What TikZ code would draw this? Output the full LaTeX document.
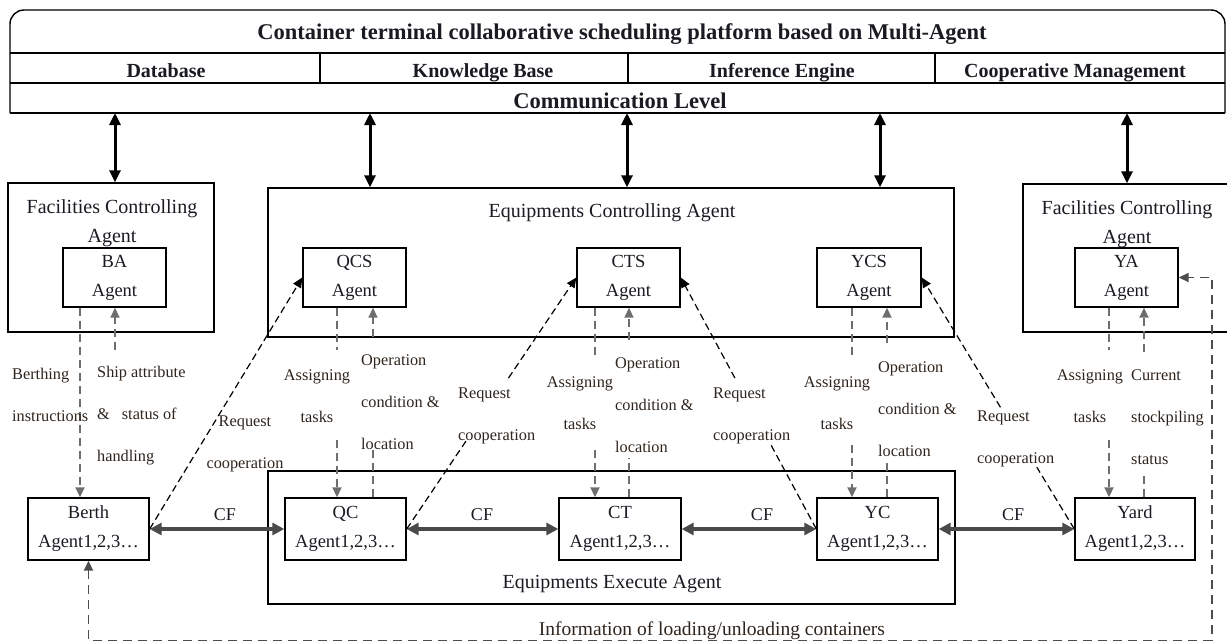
\documentclass[tikz,border=0pt]{standalone}
\usepackage{fontspec}
\setmainfont{Liberation Serif}
\usetikzlibrary{arrows.meta,calc}
\definecolor{txt}{HTML}{1A1A22}
\definecolor{lblc}{HTML}{2E241C}
\definecolor{gdc}{HTML}{6E6E6E}
\definecolor{cfc}{HTML}{4A4A4A}
\tikzset{
  frame/.style={draw=black, line width=1.4pt, inner sep=0pt},
  agentbox/.style={draw=black, line width=1.4pt, inner sep=0pt, align=center, text=txt,
     font=\fontsize{18.5}{29}\selectfont},
  boxtxt/.style={inner sep=0pt, align=center, text=txt, font=\fontsize{20}{29}\selectfont},
  hdr/.style={inner sep=0pt, anchor=base, text=txt, font=\bfseries\fontsize{20}{24}\selectfont},
  ttl/.style={inner sep=0pt, anchor=base, text=txt, font=\bfseries\fontsize{22.5}{26}\selectfont},
  lbl/.style={inner sep=0pt, text=lblc, font=\fontsize{16.3}{42}\selectfont},
  cflbl/.style={inner sep=0pt, text=txt, font=\fontsize{18}{22}\selectfont},
  bigarr/.style={line width=3pt, black, {Triangle[length=12pt,width=11pt]}-{Triangle[length=12pt,width=11pt]}},
  cfarr/.style={line width=3.5pt, cfc, {Triangle[length=12pt,width=12pt]}-{Triangle[length=12pt,width=12pt]}},
  gd/.style={line width=1.8pt, gdc, dash pattern=on 8pt off 5pt},
  gdarr/.style={gd, -{Triangle[length=10pt,width=9pt]}},
  rq/.style={line width=1.2pt, black, dash pattern=on 7pt off 4pt},
  rqarr/.style={rq, -{Triangle[length=10pt,width=9pt]}},
  loopd/.style={line width=1.8pt, draw=black!70, dash pattern=on 9pt off 6pt,
     {Triangle[length=10pt,width=9pt]}-{Triangle[length=10pt,width=9pt]}}
}
\begin{document}
\begin{tikzpicture}[x=1pt,y=-1pt]
\useasboundingbox (0,0) rectangle (1227,643);
% ---------- header table ----------
\draw[line width=1.4pt, rounded corners=14pt] (10,113) -- (10,10) -- (1225,10) -- (1225,113);
\draw[line width=1.4pt] (10,53) -- (1225,53);
\draw[line width=1.4pt] (10,83) -- (1225,83);
\draw[line width=1.4pt] (10,113) -- (1225,113);
\draw[line width=1.2pt] (320,53) -- (320,83) (628,53) -- (628,83) (935,53) -- (935,83);
\node[ttl] (title) at (622,39) {Container terminal collaborative scheduling platform based on Multi-Agent};
\node[hdr] (db) at (166,77) {Database};
\node[hdr] (kb) at (483,77) {Knowledge Base};
\node[hdr] (ie) at (782,77) {Inference Engine};
\node[hdr] (cm) at (1075,77) {Cooperative Management};
\node[ttl] (comm) at (620,108) {Communication Level};
% ---------- controlling agents ----------
\node[frame, minimum width=206pt, minimum height=149pt] (fcl) at (111,257.5) {};
\node[boxtxt] (fclt) at (112,223.5) {Facilities Controlling\\Agent};
\node[agentbox, minimum width=103pt, minimum height=59pt] (ba) at (114.5,277.5) {BA\\Agent};
\node[frame, minimum width=686pt, minimum height=149pt] (eca) at (611,262.5) {};
\node[boxtxt] (ecat) at (612,213) {Equipments Controlling Agent};
\node[agentbox, minimum width=103pt, minimum height=59pt] (qcs) at (354.5,277.5) {QCS\\Agent};
\node[agentbox, minimum width=103pt, minimum height=59pt] (cts) at (628.5,277.5) {CTS\\Agent};
\node[agentbox, minimum width=104pt, minimum height=59pt] (ycs) at (869,277.5) {YCS\\Agent};
\node[frame, minimum width=208pt, minimum height=148pt] (fcr) at (1127,258) {};
\node[boxtxt] (fcrt) at (1127,224.5) {Facilities Controlling\\Agent};
\node[agentbox, minimum width=103pt, minimum height=59pt] (ya) at (1126.5,277.5) {YA\\Agent};
% ---------- execute agents ----------
\node[frame, minimum width=687pt, minimum height=133pt] (eea) at (611.5,537.5) {};
\node[boxtxt] (eeat) at (612,584) {Equipments Execute Agent};
\node[agentbox, minimum width=121pt, minimum height=62pt] (berth) at (88.5,529) {Berth\\Agent1,2,3\dots};
\node[agentbox, minimum width=121pt, minimum height=62pt] (qc) at (345.5,529) {QC\\Agent1,2,3\dots};
\node[agentbox, minimum width=122pt, minimum height=62pt] (ct) at (620,529) {CT\\Agent1,2,3\dots};
\node[agentbox, minimum width=121pt, minimum height=62pt] (yc) at (877.5,529) {YC\\Agent1,2,3\dots};
\node[agentbox, minimum width=120pt, minimum height=62pt] (yard) at (1135,529) {Yard\\Agent1,2,3\dots};
% ---------- communication arrows ----------
\coordinate (t1) at (115,113);
\coordinate (t2) at (370,113);
\coordinate (t3) at (627,113);
\coordinate (t4) at (880,113);
\coordinate (t5) at (1127,113);
\draw[bigarr] (t1) -- (t1 |- fcl.north);
\draw[bigarr] (t2) -- (t2 |- eca.north);
\draw[bigarr] (t3) -- (t3 |- eca.north);
\draw[bigarr] (t4) -- (t4 |- eca.north);
\draw[bigarr] (t5) -- (t5 |- fcr.north);
% ---------- CF arrows ----------
\draw[cfarr] (berth.east) -- (qc.west);
\draw[cfarr] (qc.east) -- (ct.west);
\draw[cfarr] (ct.east) -- (yc.west);
\draw[cfarr] (yc.east) -- (yard.west);
\node[cflbl] (cf1) at (225,515) {CF};
\node[cflbl] (cf2) at (482,515) {CF};
\node[cflbl] (cf3) at (762,515) {CF};
\node[cflbl] (cf4) at (1013,515) {CF};
% ---------- BA <-> Berth ----------
\coordinate (bx) at (80,0);
\draw[gdarr] (ba.south -| bx) -- (berth.north -| bx);
\coordinate (s1) at (115,350);
\draw[gdarr] (s1) -- (s1 |- ba.south);
\node[lbl, anchor=west, align=left] (l1) at (12,395) {Berthing\\instructions};
\node[lbl, anchor=west, align=left] (l2) at (97,416) {Ship attribute\\\&\hspace{12pt}status of\\handling};
% ---------- QCS <-> QC ----------
\coordinate (qa1) at (337,350); \coordinate (qa2) at (337,440);
\draw[gd] (qa1 |- qcs.south) -- (qa1);
\draw[gdarr] (qa2) -- (qa2 |- qc.north);
\coordinate (qo1) at (373,337); \coordinate (qo2) at (373,450);
\draw[gdarr] (qo1) -- (qo1 |- qcs.south);
\draw[gd] (qo2 |- qc.north) -- (qo2);
\node[lbl, align=center] (l3) at (317,396) {Assigning\\tasks};
\node[lbl, anchor=west, align=left] (l4) at (361,402) {Operation\\condition \&\\location};
% ---------- CTS <-> CT ----------
\coordinate (ca1) at (595,358); \coordinate (ca2) at (595,450);
\draw[gd] (ca1 |- cts.south) -- (ca1);
\draw[gdarr] (ca2) -- (ca2 |- ct.north);
\coordinate (co1) at (629,340); \coordinate (co2) at (629,458);
\draw[gdarr] (co1) -- (co1 |- cts.south);
\draw[gd] (co2 |- ct.north) -- (co2);
\node[lbl, align=center] (l5) at (580,403) {Assigning\\tasks};
\node[lbl, anchor=west, align=left] (l6) at (615,405) {Operation\\condition \&\\location};
% ---------- YCS <-> YC ----------
\coordinate (ya1) at (852,358); \coordinate (ya2) at (852,445);
\draw[gd] (ya1 |- ycs.south) -- (ya1);
\draw[gdarr] (ya2) -- (ya2 |- yc.north);
\coordinate (yo1) at (887,343); \coordinate (yo2) at (887,460);
\draw[gdarr] (yo1) -- (yo1 |- ycs.south);
\draw[gd] (yo2 |- yc.north) -- (yo2);
\node[lbl, align=center] (l7) at (837,403) {Assigning\\tasks};
\node[lbl, anchor=west, align=left] (l8) at (878,409) {Operation\\condition \&\\location};
% ---------- YA <-> Yard ----------
\coordinate (da1) at (1109,350); \coordinate (da2) at (1109,440);
\draw[gd] (da1 |- ya.south) -- (da1);
\draw[gdarr] (da2) -- (da2 |- yard.north);
\coordinate (do1) at (1144,352); \coordinate (do2) at (1144,473);
\draw[gdarr] (do1) -- (do1 |- ya.south);
\draw[gd] (do2 |- yard.north) -- (do2);
\node[lbl, align=center] (l9) at (1090,396) {Assigning\\tasks};
\node[lbl, anchor=west, align=left] (l10) at (1131,417) {Current\\stockpiling\\status};
% ---------- Request cooperation ----------
\draw[rqarr] (berth.east) -- (qcs.west);
\node[lbl, align=center] (r1) at (245,444) {Request\\cooperation};
\draw[rq] (qc.east) -- ($(qc.east)!0.35!(cts.west)$);
\draw[rqarr] ($(qc.east)!0.6!(cts.west)$) -- (cts.west);
\node[lbl, anchor=west, align=left] (r2) at (458,416) {Request\\cooperation};
\draw[rq] (yc.west) -- ($(yc.west)!0.345!(cts.east)$);
\draw[rqarr] ($(yc.west)!0.6!(cts.east)$) -- (cts.east);
\node[lbl, anchor=west, align=left] (r3) at (713,416) {Request\\cooperation};
\draw[rq] (yard.west) -- ($(yard.west)!0.246!(ycs.east)$);
\draw[rqarr] ($(yard.west)!0.484!(ycs.east)$) -- (ycs.east);
\node[lbl, anchor=west, align=left] (r4) at (977,439) {Request\\cooperation};
% ---------- information loop ----------
\coordinate (b1) at (88.5,640.5);
\coordinate (b2) at (1212,640.5);
\coordinate (b3) at (1212,277.5);
\draw[loopd] (berth.south) -- (b1) -- (b2) -- (b3) -- (ya.east);
\node[inner sep=0pt, text=lblc, font=\fontsize{19.5}{22}\selectfont] (info) at (712,631) {Information of loading/unloading containers};
\end{tikzpicture}
\end{document}
